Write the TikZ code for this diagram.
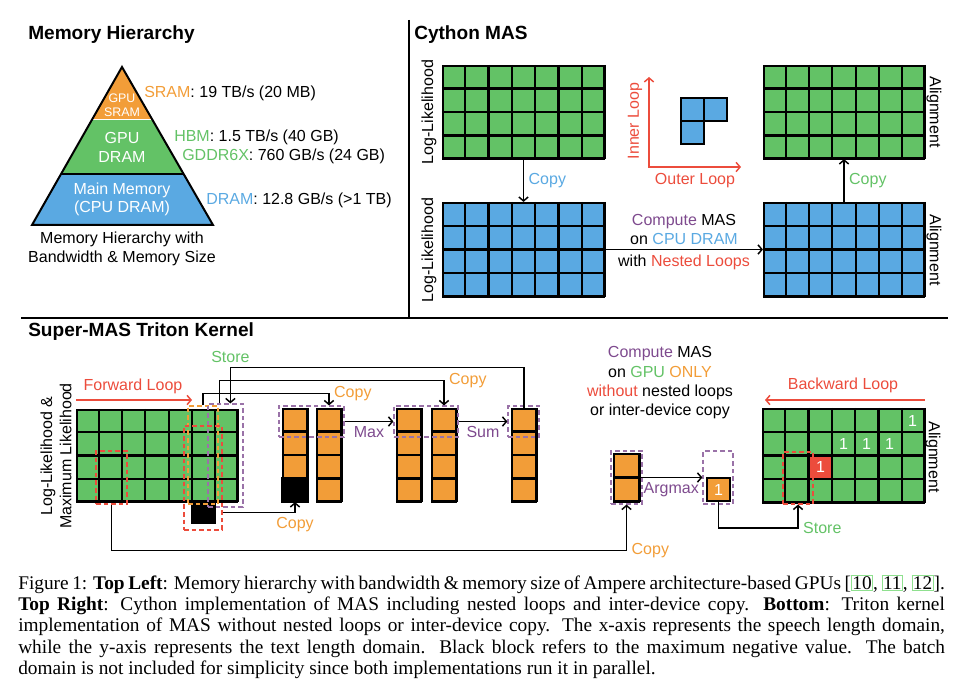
\documentclass[tikz,border=0pt]{standalone}
\usepackage{fontspec}
\setmainfont{Liberation Serif}
\setsansfont{Liberation Sans}
\usetikzlibrary{arrows.meta}
\usetikzlibrary{calc,fit,positioning}
\tikzset{>={Straight Barb[length=3pt,width=7pt]}}
\definecolor{g1}{HTML}{63C266}
\definecolor{b1}{HTML}{5AA9E2}
\definecolor{o1}{HTML}{F29D38}
\definecolor{r1}{HTML}{EC4C3C}
\definecolor{p1}{HTML}{7E4A8E}
\definecolor{p2}{HTML}{9A72A8}
\definecolor{l1}{HTML}{8FE08F}
\tikzstyle{grid box}=[draw, line width=1.6pt, inner sep=0pt]
\tikzstyle{grid line}=[line width=1.6pt]
\tikzstyle{dash box}=[draw, line width=0.9pt, dash pattern=on 3.5pt off 2.2pt, inner sep=0pt]
\tikzstyle{link}=[line width=1.1pt]
\tikzstyle{loop arrow}=[r1, line width=1.1pt]
\tikzstyle{title}=[font=\sffamily\bfseries\fontsize{14.3}{17}\selectfont, anchor=west, inner sep=0pt]
\tikzstyle{side}=[anchor=west, inner sep=0pt]
\tikzstyle{cap line}=[font=\rmfamily\fontsize{14.5}{17}\selectfont, anchor=west, inner sep=0pt]
\tikzstyle{one}=[white, inner sep=0pt]
\newcommand{\citebox}[1]{{\fboxsep=0.4pt\fboxrule=0.6pt\fcolorbox{l1}{white}{#1}}}
\newcommand{\cellgrid}[6]
{ % #1 = name, #2 = top left, #3 = bottom right, #4 = columns, #5 = rows, #6 = fill
  \coordinate (#1-nw) at #2;
  \coordinate (#1-se) at #3;
  \node[grid box, fill=#6, fit=(#1-nw)(#1-se)] (#1) {};
  \foreach \i in {1,...,#4}
    \draw[grid line] ($(#1.north west)!\i/#4!(#1.north east)$) -- ($(#1.south west)!\i/#4!(#1.south east)$);
  \foreach \j in {1,...,#5}
    \draw[grid line] ($(#1.north west)!\j/#5!(#1.south west)$) -- ($(#1.north east)!\j/#5!(#1.south east)$);
}

\begin{document}
\begin{tikzpicture}[x=0.75pt, y=-0.75pt, font=\sffamily\fontsize{12}{14.3}\selectfont]
  \useasboundingbox (0,0) rectangle (960,698);
  \draw[line width=1pt] (409,20) -- (409,318);
  \draw[line width=1.2pt] (21,318) -- (948,318);

  % memory hierarchy
  \node[title] (t-mem) at (28,35) {Memory Hierarchy};
  \coordinate (apex) at (122,67);
  \coordinate (base-l) at (32,225);
  \coordinate (base-r) at (213,225);
  \coordinate (s-l) at ($(apex)!0.335!(base-l)$);
  \coordinate (s-r) at ($(apex)!0.335!(base-r)$);
  \coordinate (d-l) at ($(apex)!0.677!(base-l)$);
  \coordinate (d-r) at ($(apex)!0.677!(base-r)$);
  \fill[o1] (apex) -- (s-r) -- (s-l) -- cycle;
  \fill[g1] (s-l) -- (s-r) -- (d-r) -- (d-l) -- cycle;
  \fill[b1] (d-l) -- (d-r) -- (base-r) -- (base-l) -- cycle;
  \draw[white, line width=0.8pt] (s-l) -- (s-r);
  \draw[line width=1pt] (d-l) -- (d-r);
  \draw[line width=1.5pt] (apex) -- (base-r) -- (base-l) -- cycle;
  \node[white, align=center, font=\sffamily\fontsize{9.3}{10.5}\selectfont] (sram) at (122,105) {GPU\\SRAM};
  \node[white, align=center] (gdram) at (122,147.5) {GPU\\DRAM};
  \node[white, align=center, font=\sffamily\fontsize{12}{13.5}\selectfont] (main) at (122,199) {Main Memory\\(CPU DRAM)};
  \node[side] (l-sram) at (144,93) {\textcolor{o1}{SRAM}: 19 TB/s (20 MB)};
  \node[side] (l-hbm) at (174,137) {\textcolor{g1}{HBM}: 1.5 TB/s (40 GB)};
  \node[side] (l-gddr) at (182,156) {\textcolor{g1}{GDDR6X}: 760 GB/s (24 GB)};
  \node[side] (l-dram) at (206,200) {\textcolor{b1}{DRAM}: 12.8 GB/s (>1 TB)};
  \node[align=center] (mh-cap) at (122,248.5) {Memory Hierarchy with\\Bandwidth \& Memory Size};

  % cython
  \node[title] (t-cy) at (414,35) {Cython MAS};
  \cellgrid{ll-gpu}{(443,66)}{(604,158)}{7}{4}{g1}
  \cellgrid{ll-cpu}{(443,203)}{(604,296)}{7}{4}{b1}
  \cellgrid{al-gpu}{(764,66)}{(924,158)}{7}{4}{g1}
  \cellgrid{al-cpu}{(764,203)}{(924,296)}{7}{4}{b1}
  \node[rotate=90] at (429,112) {Log-Likelihood};
  \node[rotate=90] at (429,250) {Log-Likelihood};
  \node[rotate=-90] at (934,112) {Alignment};
  \node[rotate=-90] at (934,250) {Alignment};
  \draw[link,->] (ll-gpu.south) -- (ll-cpu.north) node[midway, right, b1] {Copy};
  \draw[link,->] (al-cpu.north) -- (al-gpu.south) node[midway, right, g1] {Copy};
  \draw[link,->] (ll-cpu.east) -- (al-cpu.west)
    node[midway, above, align=center] {\textcolor{p1}{Compute} MAS\\on \textcolor{b1}{CPU DRAM}}
    node[midway, below] {with \textcolor{r1}{Nested Loops}};
  \coordinate (lp-o) at (649,167);
  \coordinate (lp-in) at (649,77);
  \coordinate (lp-out) at (741,167);
  \draw[loop arrow,<->] (lp-in) -- (lp-o) -- (lp-out);
  \node[r1, rotate=90] at (635,121) {Inner Loop};
  \node[r1] at (695,181) {Outer Loop};
  \draw[grid line, fill=b1] (681,98) rectangle (704,121);
  \draw[grid line, fill=b1] (704,98) rectangle (727,121);
  \draw[grid line, fill=b1] (681,121) rectangle (704,144);

  % triton kernel
  \node[title] (t-sm) at (28,332) {Super-MAS Triton Kernel};
  \cellgrid{fw}{(77,410)}{(237,501)}{7}{4}{g1}
  \node[rotate=90, align=center] at (56,456) {Log-Likelihood \&\\Maximum Likelihood};
  \coordinate (fw-a) at (76,400);
  \coordinate (fw-b) at (192,400);
  \draw[loop arrow,->] (fw-a) -- (fw-b);
  \node[r1] at (133,386) {Forward Loop};
  \node[fill=black, inner sep=0pt, fit={(191,501) (216,524)}] (blk) {};
  \node[dash box, draw=o1, fit={(188,406) (218,504)}] (fw-ob) {};
  \node[dash box, draw=p2, fit={(208,404) (243,507)}] (fw-pb) {};
  \node[dash box, draw=r1, fit={(184,426) (222,530)}] (fw-rb) {};
  \node[dash box, draw=r1, fit={(96,451) (127,504)}] (fw-rs) {};

  \cellgrid{colA}{(283,409)}{(307,501)}{1}{4}{o1}
  \draw[grid line, fill=black] ($(colA.south west)!0.25!(colA.north west)$) rectangle (colA.south east);
  \cellgrid{colB}{(317,409)}{(341,501)}{1}{4}{o1}
  \cellgrid{colC}{(397,409)}{(421,501)}{1}{4}{o1}
  \cellgrid{colD}{(432,409)}{(456,501)}{1}{4}{o1}
  \cellgrid{colE}{(512,409)}{(536,501)}{1}{4}{o1}
  \node[dash box, draw=p2, fit={(279,406) (344,437)}] (pAB) {};
  \node[dash box, draw=p2, fit={(394,406) (458,437)}] (pCD) {};
  \node[dash box, draw=p2, fit={(508,406) (539,437)}] (pE) {};
  \draw[link,->] (pAB.east) -- (pCD.west) node[midway, below, p1] {Max};
  \draw[link,->] (pCD.east) -- (pE.west) node[midway, below, p1] {Sum};

  \draw[link,->] (fw-ob.north) -- ++(0,-12) -| node[pos=0.5, right, o1] {Copy} (colB.north |- pAB.north);
  \draw[link,->] ($(fw-pb.north west)+(12,0)$) -- ++(0,-23) -| node[pos=0.5, right, o1] {Copy} (colD.north |- pCD.north);
  \draw[link,->] (colE.north) |- ($(fw-pb.north west)+(23,-36)$) node[above, g1] {Store} -- ($(fw-pb.north west)+(23,0)$);
  \draw[link,->] (fw-rb.east |- blk.east) -| node[pos=0.5, below, o1] {Copy} (colA.south);

  % gpu only
  \node[align=center, font=\sffamily\fontsize{12}{14.5}\selectfont] (gpu-note) at (660,383)
    {\textcolor{p1}{Compute} MAS\\on \textcolor{g1}{GPU} \textcolor{o1}{ONLY}\\\textcolor{r1}{without} nested loops\\or inter-device copy};
  \cellgrid{arg}{(614,454)}{(639,501)}{1}{2}{o1}
  \node[dash box, draw=p2, fit={(611,451) (642,504)}] (pArg) {};
  \node[dash box, draw=p2, fit={(703,451) (733,504)}] (pOne) {};
  \node[grid box, fill=o1, fit={(707,478) (730,501)}] (one) {};
  \node[one] at (one.center) {1};
  \draw[link,->] (arg.east) -- (pOne.west) node[midway, below, p1] {Argmax};
  \draw[link,->] (fw-rs.south) -- ++(0,46) -| node[pos=0.5, right, o1] {Copy} (pArg.south);

  \cellgrid{bw}{(763,409)}{(924,502)}{7}{4}{g1}
  \draw[grid line, fill=r1] (809,455.5) rectangle (832,478.75);
  \node[one] at (820.5,467.1) {1};
  \foreach \c/\r in {6/0,3/1,4/1,5/1}
    \node[one] at ({763+(\c+0.5)*23},{409+(\r+0.5)*23.25}) {1};
  \node[dash box, draw=r1, fit={(783,452) (813,504)}] (bw-rs) {};
  \draw[link,->] (one.south) -- ++(0,26) -| node[pos=0.5, right, g1] {Store} (bw-rs.south);
  \coordinate (bw-a) at (925,400);
  \coordinate (bw-b) at (765,400);
  \draw[loop arrow,->] (bw-a) -- (bw-b);
  \node[r1] at (843,385) {Backward Loop};
  \node[rotate=-90] at (933,457) {Alignment};

  % caption
  \node[cap line] (cap1) at (18,584) {\makebox[695pt][s]{Figure 1: \textbf{Top Left}: Memory hierarchy with bandwidth \& memory size of Ampere architecture-based GPUs [\citebox{10}, \citebox{11}, \citebox{12}].}};
  \node[cap line] (cap2) at (18,605.5) {\makebox[695pt][s]{\textbf{Top Right}: Cython implementation of MAS including nested loops and inter-device copy. \textbf{Bottom}: Triton kernel}};
  \node[cap line] (cap3) at (18,627) {\makebox[695pt][s]{implementation of MAS without nested loops or inter-device copy. The x-axis represents the speech length domain,}};
  \node[cap line] (cap4) at (18,648.5) {\makebox[695pt][s]{while the y-axis represents the text length domain. Black block refers to the maximum negative value. The batch}};
  \node[cap line] (cap5) at (18,670) {domain is not included for simplicity since both implementations run it in parallel.};
\end{tikzpicture}
\end{document}
